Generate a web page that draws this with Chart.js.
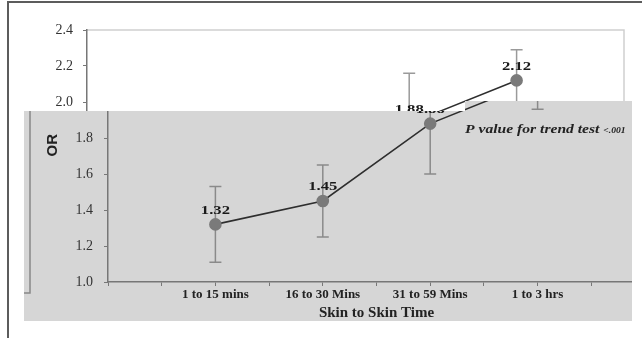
<!DOCTYPE html>
<html>
<head>
<meta charset="utf-8">
<script src="https://cdn.jsdelivr.net/npm/chart.js@4.4.1/dist/chart.umd.min.js"></script>
<style>
  html, body { margin: 0; padding: 0; background: #fff; }
  #page { position: relative; width: 642px; height: 338px; overflow: hidden; background: #fff; }
  #upWrap { position: absolute; left: 0; top: 0; width: 660px; height: 338px; }
  #lowClip {
    position: absolute; left: 24px; top: 101px; width: 608px; height: 220px;
    overflow: hidden; background: #d6d6d6;
    clip-path: polygon(0 10px, 441px 10px, 441px 0, 100% 0, 100% 100%, 0 100%);
  }
  #lowWrap { position: absolute; left: -3px; top: -101px; width: 660px; height: 338px; }
  #frame {
    position: absolute; left: 7px; top: 1px; width: 700px; height: 400px;
    border-left: 2px solid #5c5c5c; border-top: 2px solid #5c5c5c;
  }
</style>
</head>
<body>
<div id="page">
  <div id="upWrap"><canvas id="up" width="660" height="338"></canvas></div>
  <div id="lowClip"><div id="lowWrap"><canvas id="low" width="660" height="338"></canvas></div></div>
  <div id="frame"></div>
</div>
<script>
// data
var categories = ["1 to 15 mins", "16 to 30 Mins", "31 to 59 Mins", "1 to 3 hrs"];
var orValues = [1.32, 1.45, 1.88, 2.12];
var ciLower = [1.11, 1.25, 1.60, 1.96];
var ciUpper = [1.53, 1.65, 2.16, 2.29];
var yTicks = [1.0, 1.2, 1.4, 1.6, 1.8, 2.0, 2.2, 2.4];
var yTitle = "OR";
var xTitle = "Skin to Skin Time";
var pNote = "P value for trend test";
var pValue = "<.001";

var points = orValues.map(function(v, i) { return {x: i, y: v}; });

// the source picture is a bit stretched sideways, so text is widened a little
function wideText(ctx, text, x, y, sx) {
  ctx.save();
  ctx.translate(x, y);
  ctx.scale(sx, 1);
  ctx.fillText(text, 0, 0);
  ctx.restore();
}

var errorBars = {
  id: "errorBars",
  beforeDatasetsDraw: function(chart, args, opts) {
    var ctx = chart.ctx, xs = chart.scales.x, ys = chart.scales.y;
    ctx.save();
    ctx.strokeStyle = opts.color;
    ctx.lineWidth = 1.5;
    for (var i = 0; i < orValues.length; i++) {
      var x = xs.getPixelForValue(i);
      var y1 = ys.getPixelForValue(ciLower[i]);
      var y2 = ys.getPixelForValue(ciUpper[i]);
      ctx.beginPath();
      ctx.moveTo(x, y1); ctx.lineTo(x, y2);
      ctx.moveTo(x - 6, y1); ctx.lineTo(x + 6, y1);
      ctx.moveTo(x - 6, y2); ctx.lineTo(x + 6, y2);
      ctx.stroke();
    }
    ctx.restore();
  }
};

var valueLabels = {
  id: "valueLabels",
  afterDatasetsDraw: function(chart) {
    var ctx = chart.ctx, xs = chart.scales.x, ys = chart.scales.y;
    ctx.save();
    ctx.font = "bold 13px 'Liberation Serif', serif";
    ctx.fillStyle = "#1a1a1a";
    ctx.textAlign = "center";
    ctx.textBaseline = "middle";
    for (var i = 0; i < orValues.length; i++) {
      wideText(ctx, orValues[i].toFixed(2), xs.getPixelForValue(i), ys.getPixelForValue(orValues[i]) - 14, 1.28);
    }
    ctx.restore();
  }
};

var upperExtras = {
  id: "upperExtras",
  beforeDraw: function(chart) {
    var ctx = chart.ctx, a = chart.chartArea;
    ctx.save();
    ctx.strokeStyle = "#cfcfcf";
    ctx.lineWidth = 1.5;
    ctx.beginPath();
    ctx.moveTo(a.left, a.top); ctx.lineTo(a.right, a.top); ctx.lineTo(a.right, a.bottom);
    ctx.stroke();
    ctx.restore();
  }
};

var lowerExtras = {
  id: "lowerExtras",
  beforeDraw: function(chart) {
    var ctx = chart.ctx;
    ctx.save();
    ctx.strokeStyle = "#888";
    ctx.lineWidth = 1.5;
    ctx.beginPath();
    ctx.moveTo(9, 105); ctx.lineTo(9, 293); ctx.lineTo(3, 293);
    ctx.stroke();
    ctx.restore();
  },
  afterDraw: function(chart) {
    var ctx = chart.ctx, xs = chart.scales.x, ys = chart.scales.y;
    ctx.save();
    ctx.fillStyle = "#222";
    ctx.textBaseline = "middle";
    ctx.textAlign = "center";
    ctx.translate(32, ys.getPixelForValue(1.76));
    ctx.rotate(-Math.PI / 2);
    ctx.font = "bold 15px 'Liberation Sans', Arial, sans-serif";
    ctx.fillText(yTitle, 0, 0);
    ctx.restore();

    ctx.save();
    ctx.fillStyle = "#222";
    ctx.textBaseline = "middle";
    ctx.textAlign = "left";
    var px = xs.getPixelForValue(2.325), py = ys.getPixelForValue(1.845);
    ctx.font = "bold italic 13px 'Liberation Serif', serif";
    wideText(ctx, pNote, px, py, 1.2);
    var w = ctx.measureText(pNote + " ").width * 1.2;
    ctx.font = "bold italic 8px 'Liberation Serif', serif";
    wideText(ctx, pValue, px + w, py + 1, 1.2);
    ctx.restore();
  }
};

function makeChart(id, look) {
  return new Chart(document.getElementById(id), {
    type: "line",
    data: {
      datasets: [{
        data: points,
        borderColor: "#2e2e2e",
        borderWidth: 1.6,
        pointRadius: 5.5,
        pointBackgroundColor: "#7a7a7a",
        pointBorderColor: "#7a7a7a",
        tension: 0
      }]
    },
    options: {
      responsive: false,
      animation: false,
      events: [],
      layout: { padding: { left: 0, top: 30, right: 36, bottom: 0 } },
      plugins: {
        legend: { display: false },
        tooltip: { enabled: false },
        errorBars: { color: look.barColor }
      },
      scales: {
        x: {
          type: "linear",
          min: -1,
          max: 4,
          afterFit: function(s) { s.height = 56; },
          border: { color: look.axisColor, width: 1.5 },
          grid: { drawOnChartArea: false, tickLength: 4, color: look.axisColor },
          ticks: {
            stepSize: 0.5,
            autoSkip: false,
            maxRotation: 0,
            padding: 1,
            color: "#222",
            font: { family: "'Liberation Serif', serif", size: 13, weight: "bold" },
            callback: function(v) {
              return (Number.isInteger(v) && v >= 0 && v < categories.length) ? categories[v] : "";
            }
          },
          title: {
            display: true,
            text: xTitle,
            color: "#222",
            font: { family: "'Liberation Serif', serif", size: 15, weight: "bold" },
            padding: { top: 0, bottom: 16 }
          }
        },
        y: {
          min: yTicks[0],
          max: yTicks[yTicks.length - 1],
          afterFit: function(s) { s.width = 87; },
          border: { color: look.axisColor, width: 1.5 },
          grid: { drawOnChartArea: false, tickLength: 4, color: look.axisColor },
          ticks: {
            stepSize: 0.1,
            padding: look.tickPad,
            color: "#333",
            font: { family: "'Liberation Serif', serif", size: 14 },
            callback: function(v) {
              return yTicks.some(function(t) { return Math.abs(t - v) < 1e-6; }) ? v.toFixed(1) : "";
            }
          }
        }
      }
    },
    plugins: look.plugins
  });
}

makeChart("up", { barColor: "#9a9a9a", axisColor: "#777", tickPad: 10,
                  plugins: [upperExtras, errorBars, valueLabels] });
makeChart("low", { barColor: "#8a8a8a", axisColor: "#777", tickPad: 11,
                   plugins: [lowerExtras, errorBars, valueLabels] });
</script>
</body>
</html>
